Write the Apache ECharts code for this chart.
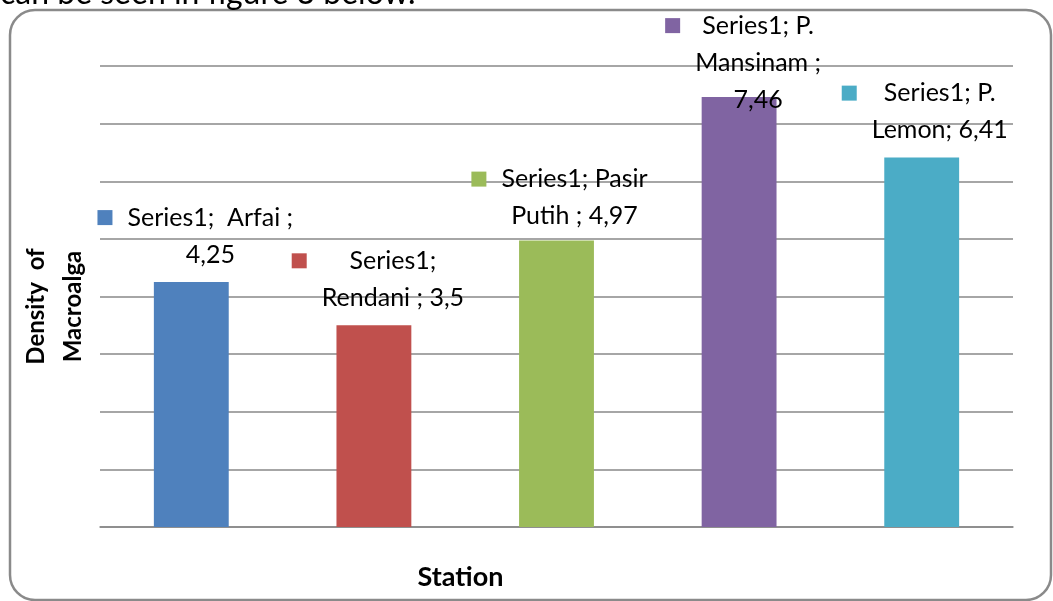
<!DOCTYPE html>
<html>
<head>
<meta charset="utf-8">
<script src="https://cdn.jsdelivr.net/npm/echarts@6/dist/echarts.min.js"></script>
<style>
  html, body { margin: 0; padding: 0; background: #fff; }
  #chart { width: 1053px; height: 601px; }
</style>
</head>
<body>
<div id="chart"></div>
<script>
const stations = ['Arfai', 'Rendani', 'Pasir Putih', 'P. Mansinam', 'P. Lemon']
const density = [4.25, 3.5, 4.97, 7.46, 6.41]
const barColors = ['#4f81bd', '#c0504d', '#9bbb59', '#8064a2', '#4bacc6']
// data labels wrapped the way excel wrapped them, %v is the value
const labelLines = [
  ['Series1;  Arfai ;', '%v'],
  ['Series1;', 'Rendani ; %v'],
  ['Series1; Pasir', 'Putih ; %v'],
  ['Series1; P.', 'Mansinam ;', '%v'],
  ['Series1; P.', 'Lemon; %v']
]
const yTicks = [0, 8, 1]

const labelNudge = [[4, -4], [4, -4], [3, -1], [4, 26], [3, -4]]
const txtFont = 'Lato'

let chart = echarts.init(document.getElementById('chart'))

let barData = density.map((v, i) => ({
  value: v,
  itemStyle: { color: barColors[i] },
  label: {
    show: true,
    position: 'top',
    offset: labelNudge[i],
    formatter: () => labelLines[i].map((l, k) => {
      let txt = l.replace('%v', String(v).replace('.', ','))
      return (k === 0 ? '{sq|}{g|}' : '{p|}') + '{t|' + txt + '}'
    }).join('\n'),
    rich: {
      sq: { width: 15, height: 15, backgroundColor: barColors[i], align: 'left' },
      g: { width: 15, height: 15, align: 'left' },
      p: { width: 30, height: 15, align: 'left' },
      t: { fontFamily: txtFont, fontSize: 25, lineHeight: 37, color: '#000' }
    }
  }
}))

chart.setOption({
  animation: false,
  backgroundColor: '#fff',
  grid: { left: 100, right: 40, top: 66, bottom: 74 },
  xAxis: {
    type: 'category',
    data: stations,
    name: 'Station',
    nameLocation: 'middle',
    nameGap: 37,
    nameTextStyle: {
      fontFamily: txtFont, fontSize: 27, fontWeight: 'bold', color: '#000',
      padding: [0, 192, 0, 0]
    },
    axisLine: { show: true, lineStyle: { color: '#888', width: 1.5 } },
    axisTick: { show: false },
    axisLabel: { show: false }
  },
  yAxis: {
    type: 'value',
    min: yTicks[0],
    max: yTicks[1],
    interval: yTicks[2],
    name: 'Density  of\nMacroalga',
    nameLocation: 'middle',
    nameRotate: 90,
    nameGap: 8,
    nameTextStyle: {
      fontFamily: txtFont, fontSize: 24, fontWeight: 'bold', color: '#000',
      lineHeight: 37, padding: [0, 20, 0, 0]
    },
    axisLine: { show: false },
    axisTick: { show: false },
    axisLabel: { show: false },
    splitLine: { show: true, lineStyle: { color: '#888', width: 1.5 } }
  },
  graphic: [
    {
      type: 'rect',
      shape: { x: 10, y: 10, width: 1041, height: 590, r: 25 },
      style: { fill: 'none', stroke: '#8a8a8a', lineWidth: 2.5 },
      z: -1
    },
    {
      // running text of the page above the figure, cut off by the crop
      type: 'text',
      x: 0,
      y: 10,
      style: {
        text: 'can be seen in figure 3 below.',
        fontFamily: 'Lato', fontSize: 32, fill: '#000',
        verticalAlign: 'bottom'
      }
    }
  ],
  series: [{
    type: 'bar',
    name: 'Series1',
    barWidth: '41%',
    data: barData
  }]
})
</script>
</body>
</html>
